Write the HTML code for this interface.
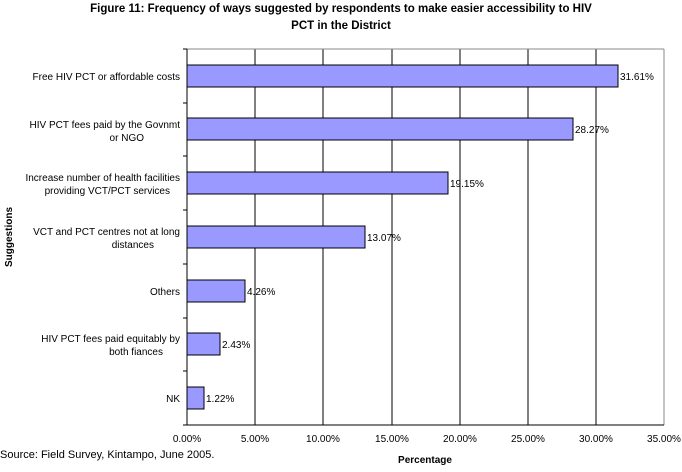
<!DOCTYPE html>
<html><head><style>
body{margin:0;background:#fff;}
svg text{font-family:"Liberation Sans",sans-serif;}
</style></head><body>
<svg width="682" height="467" xmlns="http://www.w3.org/2000/svg">
<text x="341" y="12" font-size="11.5" font-weight="bold" text-anchor="middle">Figure 11: Frequency of ways suggested by respondents to make easier accessibility to HIV</text>
<text x="341" y="29" font-size="11.5" font-weight="bold" text-anchor="middle">PCT in the District</text>
<g stroke="#000" stroke-width="1">
<line x1="255" y1="49" x2="255" y2="425"/>
<line x1="323" y1="49" x2="323" y2="425"/>
<line x1="392" y1="49" x2="392" y2="425"/>
<line x1="460" y1="49" x2="460" y2="425"/>
<line x1="528" y1="49" x2="528" y2="425"/>
<line x1="596" y1="49" x2="596" y2="425"/>
<line x1="664" y1="49" x2="664" y2="425" stroke="#888"/>
<line x1="187" y1="49" x2="664" y2="49" stroke="#888"/>
<line x1="187" y1="49" x2="187" y2="425"/>
<line x1="187" y1="425" x2="664" y2="425"/>
<line x1="183" y1="49" x2="187" y2="49"/>
<line x1="183" y1="103" x2="187" y2="103"/>
<line x1="183" y1="156" x2="187" y2="156"/>
<line x1="183" y1="210" x2="187" y2="210"/>
<line x1="183" y1="264" x2="187" y2="264"/>
<line x1="183" y1="318" x2="187" y2="318"/>
<line x1="183" y1="371" x2="187" y2="371"/>
<line x1="183" y1="425" x2="187" y2="425"/>
</g>
<g fill="#9999ff" stroke="#000" stroke-width="1">
<rect x="187" y="65" width="431" height="22"/>
<rect x="187" y="118" width="386" height="22"/>
<rect x="187" y="172" width="261" height="22"/>
<rect x="187" y="226" width="178" height="22"/>
<rect x="187" y="280" width="58" height="22"/>
<rect x="187" y="333" width="33" height="22"/>
<rect x="187" y="387" width="17" height="22"/>
</g>
<g font-size="10">
<text x="620" y="80">31.61%</text>
<text x="575" y="133">28.27%</text>
<text x="450" y="187">19.15%</text>
<text x="367" y="241">13.07%</text>
<text x="247" y="295">4.26%</text>
<text x="222" y="348">2.43%</text>
<text x="206" y="402">1.22%</text>
</g>
<g font-size="10" text-anchor="end">
<text x="180" y="80">Free HIV PCT  or affordable costs</text>
<text x="180" y="128">HIV PCT fees paid by the Govnmt</text>
<text x="144" y="141">or NGO</text>
<text x="180" y="181">Increase number of health facilities</text>
<text x="170" y="194">providing VCT/PCT services</text>
<text x="180" y="235">VCT and PCT centres not at long</text>
<text x="154" y="248">distances</text>
<text x="180" y="295">Others</text>
<text x="180" y="342">HIV PCT fees paid equitably by</text>
<text x="163" y="355">both fiances</text>
<text x="180" y="402">NK</text>
</g>
<g font-size="10" text-anchor="middle">
<text x="187" y="442">0.00%</text>
<text x="255" y="442">5.00%</text>
<text x="323" y="442">10.00%</text>
<text x="392" y="442">15.00%</text>
<text x="460" y="442">20.00%</text>
<text x="528" y="442">25.00%</text>
<text x="596" y="442">30.00%</text>
<text x="664" y="442">35.00%</text>
</g>
<text x="425" y="463" font-size="10" font-weight="bold" text-anchor="middle">Percentage</text>
<text x="0" y="458" font-size="11">Source: Field Survey, Kintampo, June 2005.</text>
<text transform="translate(12,237) rotate(-90)" font-size="10" font-weight="bold" text-anchor="middle">Suggestions</text>
</svg>
</body></html>
